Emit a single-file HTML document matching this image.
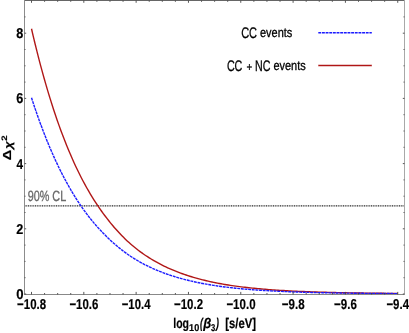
<!DOCTYPE html>
<html><head><meta charset="utf-8"><style>
html,body{margin:0;padding:0;background:#fff;}
svg{display:block;font-family:"Liberation Sans",sans-serif;text-rendering:geometricPrecision;}
.ax{font-size:12.5px;font-weight:bold;fill:#000;}
</style></head><body>
<svg width="409" height="333" viewBox="0 0 409 333">
<defs><filter id="b" x="-5%" y="-5%" width="110%" height="110%"><feGaussianBlur stdDeviation="0.42"/></filter></defs>
<rect width="409" height="333" fill="#fff"/>
<path d="M24.5,205.9 H404.5" stroke="#2a2a2a" stroke-width="1.4" stroke-dasharray="1.05 0.7" fill="none"/>
<g filter="url(#b)">
<path d="M31.50,28.78 L33.34,36.63 L35.18,44.25 L37.02,51.66 L38.86,58.86 L40.70,65.85 L42.54,72.65 L44.38,79.25 L46.22,85.65 L48.06,91.88 L49.90,97.92 L51.74,103.79 L53.58,109.49 L55.43,115.02 L57.27,120.40 L59.11,125.61 L60.95,130.68 L62.79,135.59 L64.63,140.36 L66.47,144.99 L68.31,149.49 L70.15,153.85 L71.99,158.09 L73.83,162.19 L75.67,166.18 L77.51,170.05 L79.35,173.81 L81.19,177.45 L83.03,180.98 L84.87,184.41 L86.71,187.74 L88.55,190.97 L90.39,194.10 L92.23,197.14 L94.07,200.09 L95.91,202.94 L97.75,205.72 L99.59,208.41 L101.44,211.02 L103.28,213.56 L105.12,216.04 L106.96,218.45 L108.80,220.80 L110.64,223.08 L112.48,225.30 L114.32,227.46 L116.16,229.55 L118.00,231.59 L119.84,233.57 L121.68,235.49 L123.52,237.35 L125.36,239.15 L127.20,240.89 L129.04,242.58 L130.88,244.21 L132.72,245.79 L134.56,247.31 L136.40,248.77 L138.24,250.19 L140.08,251.57 L141.92,252.91 L143.76,254.21 L145.60,255.46 L147.45,256.68 L149.29,257.86 L151.13,259.00 L152.97,260.11 L154.81,261.18 L156.65,262.22 L158.49,263.22 L160.33,264.20 L162.17,265.14 L164.01,266.05 L165.85,266.94 L167.69,267.79 L169.53,268.62 L171.37,269.43 L173.21,270.21 L175.05,270.96 L176.89,271.70 L178.73,272.41 L180.57,273.09 L182.41,273.76 L184.25,274.40 L186.09,275.03 L187.93,275.63 L189.77,276.22 L191.61,276.79 L193.46,277.34 L195.30,277.87 L197.14,278.39 L198.98,278.89 L200.82,279.37 L202.66,279.84 L204.50,280.30 L206.34,280.74 L208.18,281.16 L210.02,281.58 L211.86,281.98 L213.70,282.37 L215.54,282.74 L217.38,283.10 L219.22,283.45 L221.06,283.79 L222.90,284.12 L224.74,284.44 L226.58,284.75 L228.42,285.04 L230.26,285.33 L232.10,285.61 L233.94,285.87 L235.78,286.13 L237.63,286.38 L239.47,286.63 L241.31,286.86 L243.15,287.09 L244.99,287.31 L246.83,287.52 L248.67,287.72 L250.51,287.92 L252.35,288.11 L254.19,288.30 L256.03,288.48 L257.87,288.65 L259.71,288.82 L261.55,288.98 L263.39,289.14 L265.23,289.29 L267.07,289.44 L268.91,289.58 L270.75,289.72 L272.59,289.85 L274.43,289.98 L276.27,290.11 L278.11,290.23 L279.95,290.35 L281.79,290.46 L283.64,290.57 L285.48,290.68 L287.32,290.79 L289.16,290.89 L291.00,290.98 L292.84,291.08 L294.68,291.17 L296.52,291.25 L298.36,291.34 L300.20,291.42 L302.04,291.50 L303.88,291.57 L305.72,291.65 L307.56,291.72 L309.40,291.79 L311.24,291.85 L313.08,291.92 L314.92,291.98 L316.76,292.04 L318.60,292.10 L320.44,292.16 L322.28,292.21 L324.12,292.26 L325.96,292.32 L327.80,292.37 L329.65,292.41 L331.49,292.46 L333.33,292.51 L335.17,292.55 L337.01,292.59 L338.85,292.64 L340.69,292.68 L342.53,292.72 L344.37,292.76 L346.21,292.79 L348.05,292.83 L349.89,292.86 L351.73,292.90 L353.57,292.93 L355.41,292.96 L357.25,292.99 L359.09,293.02 L360.93,293.05 L362.77,293.07 L364.61,293.10 L366.45,293.13 L368.29,293.15 L370.13,293.18 L371.97,293.20 L373.81,293.22 L375.66,293.24 L377.50,293.26 L379.34,293.29 L381.18,293.31 L383.02,293.32 L384.86,293.34 L386.70,293.36 L388.54,293.38 L390.38,293.40 L392.22,293.42 L394.06,293.43 L395.90,293.45 L397.74,293.46" stroke="#b01818" stroke-width="1.4" fill="none"/>
<path d="M31.50,97.75 L33.34,103.37 L35.18,108.85 L37.02,114.17 L38.86,119.36 L40.70,124.41 L42.54,129.32 L44.38,134.10 L46.22,138.75 L48.06,143.28 L49.90,147.68 L51.74,151.96 L53.58,156.12 L55.43,160.17 L57.27,164.11 L59.11,167.93 L60.95,171.65 L62.79,175.27 L64.63,178.78 L66.47,182.20 L68.31,185.52 L70.15,188.74 L71.99,191.87 L73.83,194.92 L75.67,197.87 L77.51,200.75 L79.35,203.54 L81.19,206.24 L83.03,208.88 L84.87,211.43 L86.71,213.91 L88.55,216.32 L90.39,218.66 L92.23,220.93 L94.07,223.13 L95.91,225.27 L97.75,227.35 L99.59,229.36 L101.44,231.32 L103.28,233.24 L105.12,235.10 L106.96,236.92 L108.80,238.69 L110.64,240.42 L112.48,242.10 L114.32,243.74 L116.16,245.33 L118.00,246.88 L119.84,248.38 L121.68,249.84 L123.52,251.26 L125.36,252.63 L127.20,253.96 L129.04,255.24 L130.88,256.48 L132.72,257.68 L134.56,258.83 L136.40,259.94 L138.24,261.02 L140.08,262.07 L141.92,263.08 L143.76,264.06 L145.60,265.01 L147.45,265.94 L149.29,266.83 L151.13,267.70 L152.97,268.54 L154.81,269.35 L156.65,270.14 L158.49,270.90 L160.33,271.64 L162.17,272.35 L164.01,273.04 L165.85,273.71 L167.69,274.36 L169.53,274.99 L171.37,275.60 L173.21,276.19 L175.05,276.77 L176.89,277.32 L178.73,277.86 L180.57,278.38 L182.41,278.88 L184.25,279.37 L186.09,279.84 L187.93,280.30 L189.77,280.74 L191.61,281.17 L193.46,281.59 L195.30,281.99 L197.14,282.38 L198.98,282.76 L200.82,283.13 L202.66,283.48 L204.50,283.83 L206.34,284.16 L208.18,284.48 L210.02,284.79 L211.86,285.10 L213.70,285.39 L215.54,285.67 L217.38,285.94 L219.22,286.21 L221.06,286.46 L222.90,286.71 L224.74,286.95 L226.58,287.18 L228.42,287.40 L230.26,287.61 L232.10,287.82 L233.94,288.02 L235.78,288.22 L237.63,288.40 L239.47,288.58 L241.31,288.76 L243.15,288.93 L244.99,289.09 L246.83,289.25 L248.67,289.40 L250.51,289.55 L252.35,289.69 L254.19,289.83 L256.03,289.96 L257.87,290.09 L259.71,290.21 L261.55,290.33 L263.39,290.45 L265.23,290.56 L267.07,290.67 L268.91,290.77 L270.75,290.88 L272.59,290.97 L274.43,291.07 L276.27,291.16 L278.11,291.25 L279.95,291.34 L281.79,291.42 L283.64,291.51 L285.48,291.59 L287.32,291.66 L289.16,291.73 L291.00,291.81 L292.84,291.87 L294.68,291.94 L296.52,292.00 L298.36,292.06 L300.20,292.12 L302.04,292.18 L303.88,292.24 L305.72,292.29 L307.56,292.34 L309.40,292.39 L311.24,292.44 L313.08,292.49 L314.92,292.53 L316.76,292.58 L318.60,292.62 L320.44,292.66 L322.28,292.70 L324.12,292.74 L325.96,292.77 L327.80,292.81 L329.65,292.84 L331.49,292.88 L333.33,292.91 L335.17,292.94 L337.01,292.98 L338.85,293.01 L340.69,293.04 L342.53,293.06 L344.37,293.09 L346.21,293.12 L348.05,293.14 L349.89,293.17 L351.73,293.19 L353.57,293.22 L355.41,293.24 L357.25,293.26 L359.09,293.28 L360.93,293.30 L362.77,293.32 L364.61,293.34 L366.45,293.36 L368.29,293.38 L370.13,293.39 L371.97,293.41 L373.81,293.43 L375.66,293.44 L377.50,293.46 L379.34,293.47 L381.18,293.49 L383.02,293.50 L384.86,293.51 L386.70,293.53 L388.54,293.54 L390.38,293.55 L392.22,293.57 L394.06,293.58 L395.90,293.59 L397.74,293.60" stroke="#1c1cff" stroke-width="1.4" stroke-dasharray="2.9 0.75" fill="none"/>
<text transform="translate(17.10 308.90) scale(0.800 1)" font-size="14.3" font-weight="bold" font-style="normal" fill="#000" stroke="#000" stroke-width="0.2" vector-effect="non-scaling-stroke">−10.8</text>
<text transform="translate(69.42 308.90) scale(0.800 1)" font-size="14.3" font-weight="bold" font-style="normal" fill="#000" stroke="#000" stroke-width="0.2" vector-effect="non-scaling-stroke">−10.6</text>
<text transform="translate(121.74 308.90) scale(0.794 1)" font-size="14.3" font-weight="bold" font-style="normal" fill="#000" stroke="#000" stroke-width="0.2" vector-effect="non-scaling-stroke">−10.4</text>
<text transform="translate(174.06 308.90) scale(0.800 1)" font-size="14.3" font-weight="bold" font-style="normal" fill="#000" stroke="#000" stroke-width="0.2" vector-effect="non-scaling-stroke">−10.2</text>
<text transform="translate(226.38 308.90) scale(0.806 1)" font-size="14.3" font-weight="bold" font-style="normal" fill="#000" stroke="#000" stroke-width="0.2" vector-effect="non-scaling-stroke">−10.0</text>
<text transform="translate(281.80 308.90) scale(0.807 1)" font-size="14.3" font-weight="bold" font-style="normal" fill="#000" stroke="#000" stroke-width="0.2" vector-effect="non-scaling-stroke">−9.8</text>
<text transform="translate(334.12 308.90) scale(0.807 1)" font-size="14.3" font-weight="bold" font-style="normal" fill="#000" stroke="#000" stroke-width="0.2" vector-effect="non-scaling-stroke">−9.6</text>
<text transform="translate(386.44 308.90) scale(0.800 1)" font-size="14.3" font-weight="bold" font-style="normal" fill="#000" stroke="#000" stroke-width="0.2" vector-effect="non-scaling-stroke">−9.4</text>
<text transform="translate(16.14 298.90) scale(0.919 1)" font-size="14.3" font-weight="bold" font-style="normal" fill="#000" stroke="#000" stroke-width="0.2" vector-effect="non-scaling-stroke">0</text>
<text transform="translate(16.16 233.70) scale(0.886 1)" font-size="14.3" font-weight="bold" font-style="normal" fill="#000" stroke="#000" stroke-width="0.2" vector-effect="non-scaling-stroke">2</text>
<text transform="translate(16.39 168.50) scale(0.827 1)" font-size="14.3" font-weight="bold" font-style="normal" fill="#000" stroke="#000" stroke-width="0.2" vector-effect="non-scaling-stroke">4</text>
<text transform="translate(16.16 103.30) scale(0.886 1)" font-size="14.3" font-weight="bold" font-style="normal" fill="#000" stroke="#000" stroke-width="0.2" vector-effect="non-scaling-stroke">6</text>
<text transform="translate(16.16 38.10) scale(0.886 1)" font-size="14.3" font-weight="bold" font-style="normal" fill="#000" stroke="#000" stroke-width="0.2" vector-effect="non-scaling-stroke">8</text>
<text transform="translate(27.65 201.00) scale(0.732 1)" font-size="14.8" font-weight="normal" font-style="normal" fill="#686868" stroke="#686868" stroke-width="0.3" vector-effect="non-scaling-stroke">90% CL</text>
<text transform="translate(241.16 37.70) scale(0.718 1)" font-size="15.3" font-weight="normal" font-style="normal" fill="#000" stroke="#000" stroke-width="0.3" vector-effect="non-scaling-stroke">CC</text>
<text transform="translate(259.99 37.25) scale(0.824 1)" font-size="13.3" font-weight="normal" font-style="normal" fill="#000" stroke="#000" stroke-width="0.3" vector-effect="non-scaling-stroke">events</text>
<text transform="translate(226.88 70.50) scale(0.699 1)" font-size="15.3" font-weight="normal" font-style="normal" fill="#000" stroke="#000" stroke-width="0.3" vector-effect="non-scaling-stroke">CC</text>
<text transform="translate(246.49 70.70) scale(0.817 1)" font-size="12.0" font-weight="normal" font-style="normal" fill="#000" stroke="#000" stroke-width="0.3" vector-effect="non-scaling-stroke">+</text>
<text transform="translate(255.03 70.50) scale(0.696 1)" font-size="15.3" font-weight="normal" font-style="normal" fill="#000" stroke="#000" stroke-width="0.3" vector-effect="non-scaling-stroke">NC</text>
<text transform="translate(273.39 70.05) scale(0.824 1)" font-size="13.3" font-weight="normal" font-style="normal" fill="#000" stroke="#000" stroke-width="0.3" vector-effect="non-scaling-stroke">events</text>
<text transform="translate(173.25 327.60) scale(0.753 1)" font-size="14.0" font-weight="bold" font-style="normal" fill="#000" stroke="#000" stroke-width="0.2" vector-effect="non-scaling-stroke">log</text>
<text transform="translate(189.12 330.70) scale(0.910 1)" font-size="10.0" font-weight="bold" font-style="normal" fill="#000" stroke="#000" stroke-width="0.2" vector-effect="non-scaling-stroke">10</text>
<text transform="translate(199.90 327.60) scale(0.610 1)" font-size="14.0" font-weight="bold" font-style="italic" fill="#000" stroke="#000" stroke-width="0.2" vector-effect="non-scaling-stroke">(</text>
<text transform="translate(203.33 327.60) scale(0.929 1)" font-size="14.0" font-weight="bold" font-style="italic" fill="#000" stroke="#000" stroke-width="0.2" vector-effect="non-scaling-stroke">β</text>
<text transform="translate(211.01 330.70) scale(0.760 1)" font-size="10.0" font-weight="bold" font-style="normal" fill="#000" stroke="#000" stroke-width="0.2" vector-effect="non-scaling-stroke">3</text>
<text transform="translate(215.93 327.60) scale(0.629 1)" font-size="14.0" font-weight="bold" font-style="italic" fill="#000" stroke="#000" stroke-width="0.2" vector-effect="non-scaling-stroke">)</text>
<text transform="translate(225.19 327.60) scale(0.808 1)" font-size="14.0" font-weight="bold" font-style="normal" fill="#000" stroke="#000" stroke-width="0.2" vector-effect="non-scaling-stroke">[s/eV]</text>
<text transform="translate(11.40 160.35) rotate(-90) scale(1.094 0.88)" font-size="13.2" font-weight="bold" font-style="normal" stroke="#000" stroke-width="0.2" vector-effect="non-scaling-stroke">Δ</text>
<text transform="translate(11.80 148.98) rotate(-90) scale(1.017 0.83)" font-size="13.2" font-weight="bold" font-style="italic" stroke="#000" stroke-width="0.2" vector-effect="non-scaling-stroke">χ</text>
<text transform="translate(6.70 140.67) rotate(-90) scale(1.067 0.88)" font-size="9.0" font-weight="bold" font-style="normal" stroke="#000" stroke-width="0.2" vector-effect="non-scaling-stroke">2</text>
<path d="M318.3,32.8 H371.8" stroke="#1c1cff" stroke-width="1.4" stroke-dasharray="2.9 0.75" fill="none"/>
<path d="M318.3,65.6 H371.8" stroke="#b01818" stroke-width="1.5" fill="none"/>
</g>
<g shape-rendering="crispEdges" fill="none" stroke-width="1">
<path d="M24,0.5 H405" stroke="#666"/>
<path d="M24.5,0 V295" stroke="#8c8c8c"/>
<path d="M24,294.5 H405" stroke="#888"/>
<path d="M404.5,0 V295" stroke="#a8a8a8"/>
</g>
<path d="M31.50,294.5 v-2.6 M31.50,0.5 v2.3 M44.58,294.5 v-1.5 M44.58,0.5 v1.3 M57.66,294.5 v-1.5 M57.66,0.5 v1.3 M70.74,294.5 v-1.5 M70.74,0.5 v1.3 M83.82,294.5 v-2.6 M83.82,0.5 v2.3 M96.90,294.5 v-1.5 M96.90,0.5 v1.3 M109.98,294.5 v-1.5 M109.98,0.5 v1.3 M123.06,294.5 v-1.5 M123.06,0.5 v1.3 M136.14,294.5 v-2.6 M136.14,0.5 v2.3 M149.22,294.5 v-1.5 M149.22,0.5 v1.3 M162.30,294.5 v-1.5 M162.30,0.5 v1.3 M175.38,294.5 v-1.5 M175.38,0.5 v1.3 M188.46,294.5 v-2.6 M188.46,0.5 v2.3 M201.54,294.5 v-1.5 M201.54,0.5 v1.3 M214.62,294.5 v-1.5 M214.62,0.5 v1.3 M227.70,294.5 v-1.5 M227.70,0.5 v1.3 M240.78,294.5 v-2.6 M240.78,0.5 v2.3 M253.86,294.5 v-1.5 M253.86,0.5 v1.3 M266.94,294.5 v-1.5 M266.94,0.5 v1.3 M280.02,294.5 v-1.5 M280.02,0.5 v1.3 M293.10,294.5 v-2.6 M293.10,0.5 v2.3 M306.18,294.5 v-1.5 M306.18,0.5 v1.3 M319.26,294.5 v-1.5 M319.26,0.5 v1.3 M332.34,294.5 v-1.5 M332.34,0.5 v1.3 M345.42,294.5 v-2.6 M345.42,0.5 v2.3 M358.50,294.5 v-1.5 M358.50,0.5 v1.3 M371.58,294.5 v-1.5 M371.58,0.5 v1.3 M384.66,294.5 v-1.5 M384.66,0.5 v1.3 M397.74,294.5 v-2.6 M397.74,0.5 v2.3 M24.5,294.00 h1.7 M404.5,294.00 h-1.7 M24.5,277.70 h1.0 M404.5,277.70 h-1.0 M24.5,261.40 h1.0 M404.5,261.40 h-1.0 M24.5,245.10 h1.0 M404.5,245.10 h-1.0 M24.5,228.80 h1.7 M404.5,228.80 h-1.7 M24.5,212.50 h1.0 M404.5,212.50 h-1.0 M24.5,196.20 h1.0 M404.5,196.20 h-1.0 M24.5,179.90 h1.0 M404.5,179.90 h-1.0 M24.5,163.60 h1.7 M404.5,163.60 h-1.7 M24.5,147.30 h1.0 M404.5,147.30 h-1.0 M24.5,131.00 h1.0 M404.5,131.00 h-1.0 M24.5,114.70 h1.0 M404.5,114.70 h-1.0 M24.5,98.40 h1.7 M404.5,98.40 h-1.7 M24.5,82.10 h1.0 M404.5,82.10 h-1.0 M24.5,65.80 h1.0 M404.5,65.80 h-1.0 M24.5,49.50 h1.0 M404.5,49.50 h-1.0 M24.5,33.20 h1.7 M404.5,33.20 h-1.7 M24.5,16.90 h1.0 M404.5,16.90 h-1.0" stroke="#444" stroke-width="0.9" fill="none"/>
</svg></body></html>
